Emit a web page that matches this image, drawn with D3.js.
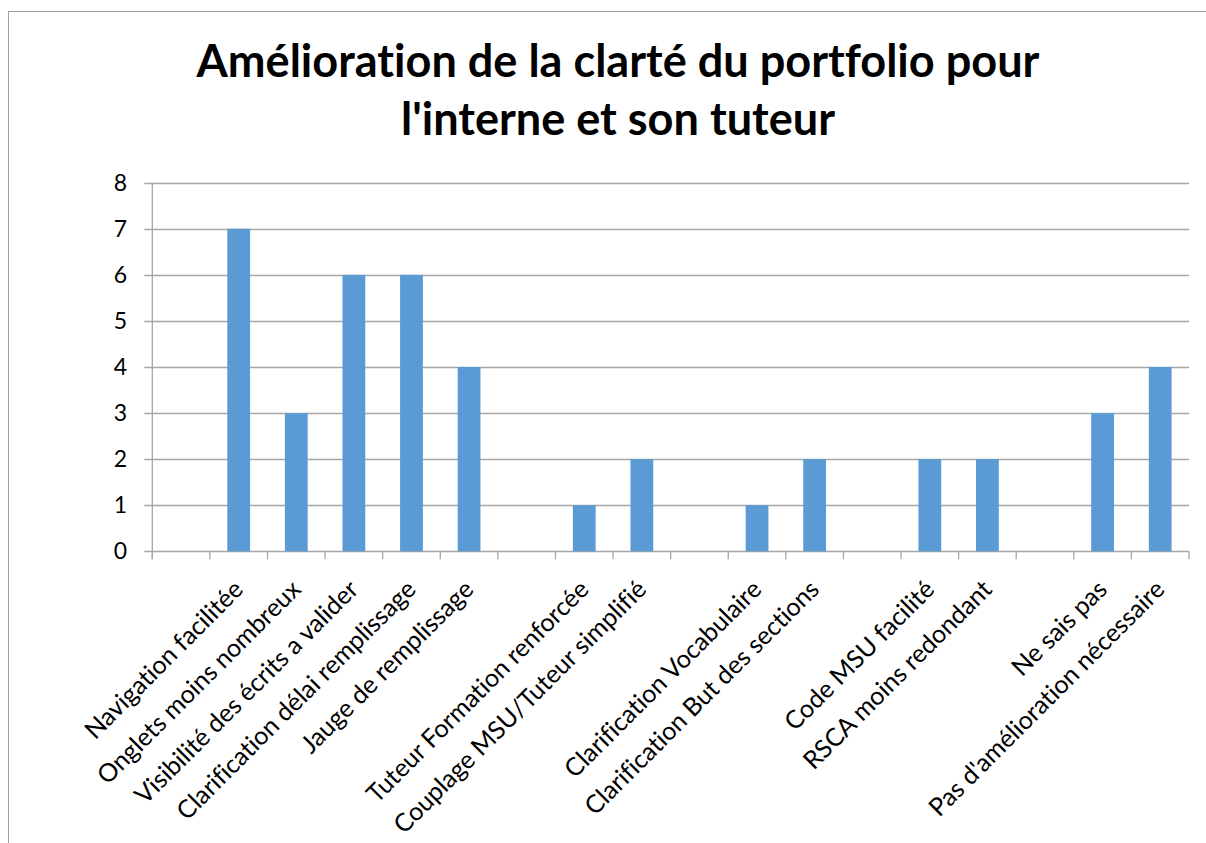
<!DOCTYPE html>
<html><head><meta charset="utf-8">
<script src="https://cdn.jsdelivr.net/npm/d3@7"></script>
<style>body{margin:0;background:#fff}svg{display:block}text{font-variant-ligatures:none}</style>
</head><body>
<svg id="c" width="1206" height="843"></svg>
<script>
const categories = ["", "Navigation facilitée", "Onglets moins nombreux", "Visibilité des écrits a valider",
  "Clarification délai remplissage", "Jauge de remplissage", "", "Tuteur Formation renforcée",
  "Couplage MSU/Tuteur simplifié", "", "Clarification Vocabulaire", "Clarification But des sections", "",
  "Code MSU facilité", "RSCA moins redondant", "", "Ne sais pas", "Pas d'amélioration nécessaire"];
const values = [null, 7, 3, 6, 6, 4, null, 1, 2, null, 1, 2, null, 2, 2, null, 3, 4];
const yTicks = [0, 1, 2, 3, 4, 5, 6, 7, 8];
const titleLines = ["Amélioration de la clarté du portfolio pour", "l'interne et son tuteur"];

(function () {
const svg = d3.select("#c");
const font = "Lato, Carlito, Calibri, sans-serif";
const gray = "#a6a6a6";

// frame
svg.append("rect").attr("x", 8.5).attr("y", 11.5).attr("width", 1400).attr("height", 1000)
  .attr("fill", "none").attr("stroke", "#a0a0a0").attr("stroke-width", 1);

const pL = 152.3, pR = 1189, pT = 182.7, pB = 551.3;
const xb = d3.scaleBand().domain(d3.range(categories.length)).range([pL, pR]);
const y = d3.scaleLinear().domain([0, 8]).range([pB, pT]);

// gridlines
svg.append("g").selectAll("line").data(yTicks).join("line")
  .attr("x1", pL - 8).attr("x2", pR).attr("y1", d => Math.round(y(d)) + 0.5).attr("y2", d => Math.round(y(d)) + 0.5)
  .attr("stroke", gray).attr("stroke-width", 1.3);

// y axis line
svg.append("line").attr("x1", pL).attr("x2", pL).attr("y1", pT).attr("y2", pB + 8)
  .attr("stroke", gray).attr("stroke-width", 1.3);

// x ticks
const xt = d3.range(categories.length + 1).map(i => i === categories.length ? pR : xb(i));
svg.append("g").selectAll("line").data(xt).join("line")
  .attr("x1", d => d).attr("x2", d => d).attr("y1", pB).attr("y2", pB + 8)
  .attr("stroke", gray).attr("stroke-width", 1.3);

// bars
svg.append("g").selectAll("rect").data(values.map((v, i) => ({v, i})).filter(d => d.v != null)).join("rect")
  .attr("x", d => xb(d.i) + xb.bandwidth() / 2 - 11.4).attr("width", 22.8)
  .attr("y", d => y(d.v)).attr("height", d => y(0) - y(d.v))
  .attr("fill", "#5b9bd5");

// y labels
svg.append("g").selectAll("text").data(yTicks).join("text")
  .attr("x", 127).attr("y", d => y(d)).attr("dy", "0.34em").attr("text-anchor", "end")
  .attr("font-family", font).attr("font-size", 23).attr("fill", "#000").text(d => d);

// x labels
const xl = svg.append("g").selectAll("text").data(categories.map((c, i) => ({c, i})).filter(d => d.c)).join("text")
  .attr("transform", d => `translate(${xb(d.i) + xb.bandwidth() / 2 + 6},${591}) rotate(-45)`)
  .attr("text-anchor", "end").attr("font-family", font).attr("font-size", 19).attr("fill", "#000")
  .text(d => d.c);
const longest = xl.filter(d => d.c === "Pas d'amélioration nécessaire").node();
const fs = 19 * 321 / longest.getComputedTextLength();
xl.attr("font-size", fs);

// title
const t = svg.append("g").selectAll("text").data(titleLines).join("text")
  .attr("x", 618).attr("y", (d, i) => 77 + i * 58).attr("text-anchor", "middle")
  .attr("font-family", font).attr("font-weight", "bold").attr("font-size", 40).attr("fill", "#000")
  .text(d => d);
const tw = t.nodes()[0].getComputedTextLength();
t.attr("font-size", 40 * 843 / tw);
})();
</script>
</body></html>
